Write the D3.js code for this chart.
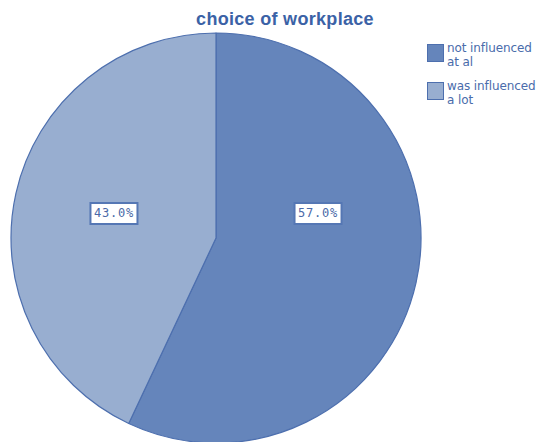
<!DOCTYPE html>
<html>
<head>
<meta charset="utf-8">
<script src="https://cdn.jsdelivr.net/npm/d3@7"></script>
<style>
  html, body { margin: 0; padding: 0; background: #ffffff; }
  svg { display: block; }
</style>
</head>
<body>
<svg id="chart" width="557" height="442"></svg>
<script>
// Survey answers and their shares (percent)
const categories = ["not influenced at al", "was influenced a lot"];
const legendLines = [["not influenced", "at al"], ["was influenced", "a lot"]];
const percentages = [57.0, 43.0];
const sliceColors = ["#6585bb", "#98aed0"];

const width = 557, height = 442;
const cx = 216, cy = 238, radius = 205;

const svg = d3.select("#chart");

// Title
svg.append("text")
  .attr("x", 285).attr("y", 25)
  .attr("text-anchor", "middle")
  .attr("font-family", "'Liberation Sans', Arial, sans-serif")
  .attr("font-weight", "bold")
  .attr("font-size", 18)
  .attr("letter-spacing", 0.3)
  .attr("fill", "#3b62a6")
  .text("choice of workplace");

const data = categories.map((c, i) => ({ name: c, value: percentages[i], color: sliceColors[i] }));

const pie = d3.pie().value(d => d.value).sort(null);
const arcs = pie(data);
const arc = d3.arc().innerRadius(0).outerRadius(radius);
const labelArc = d3.arc().innerRadius(0).outerRadius(radius * 1.02);

const g = svg.append("g").attr("transform", `translate(${cx},${cy})`);

g.selectAll("path.slice")
  .data(arcs)
  .join("path")
  .attr("class", "slice")
  .attr("d", arc)
  .attr("fill", d => d.data.color)
  .attr("stroke", "#4d6fae")
  .attr("stroke-width", 1.2)
  .attr("stroke-linejoin", "round");

// Value labels in boxed white tags, laid out on a common row
const labelRowY = -25;
const labelG = g.selectAll("g.lbl")
  .data(arcs)
  .join("g")
  .attr("class", "lbl")
  .attr("transform", d => {
    const [x] = labelArc.centroid(d);
    return `translate(${x},${labelRowY})`;
  });

labelG.each(function(d) {
  const sel = d3.select(this);
  sel.append("text")
    .attr("text-anchor", "middle")
    .attr("dy", "0.35em")
    .attr("font-family", "'DejaVu Sans Mono', monospace")
    .attr("font-size", 12)
    .attr("letter-spacing", 0.8)
    .attr("fill", "#4a69a8")
    .text(d3.format(".1f")(d.data.value) + "%");
  sel.insert("rect", "text")
    .attr("x", -23.5).attr("y", -10)
    .attr("width", 47).attr("height", 21)
    .attr("fill", "#ffffff")
    .attr("stroke", "#5577b4")
    .attr("stroke-width", 2);
});

// Legend
const legend = svg.append("g").attr("transform", "translate(427,44)");
const item = legend.selectAll("g.item")
  .data(data)
  .join("g")
  .attr("class", "item")
  .attr("transform", (d, i) => `translate(0,${i * 38})`);

item.append("rect")
  .attr("x", 0.5).attr("y", 0.5)
  .attr("width", 16).attr("height", 17)
  .attr("fill", d => d.color)
  .attr("stroke", "#4d6fae")
  .attr("stroke-width", 1);

item.each(function(d, i) {
  const t = d3.select(this).append("text")
    .attr("font-family", "'DejaVu Sans', Verdana, sans-serif")
    .attr("font-size", 12)
    .attr("letter-spacing", -0.1)
    .attr("fill", "#4a6cab");
  legendLines[i].forEach((line, k) => {
    t.append("tspan").attr("x", 20).attr("y", 8 + k * 13.5).text(line);
  });
});
</script>
</body>
</html>
